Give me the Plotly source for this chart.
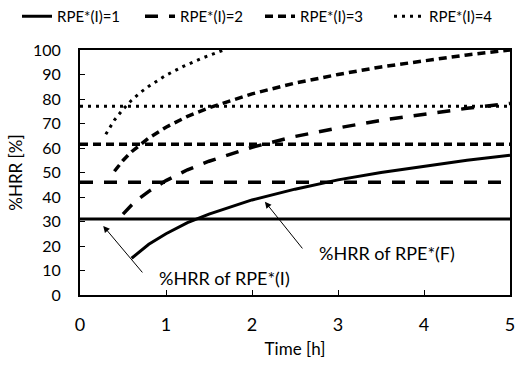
import plotly.graph_objects as go

# Horizontal lines: %HRR of RPE*(I)
rpe_labels = ["RPE*(I)=1", "RPE*(I)=2", "RPE*(I)=3", "RPE*(I)=4"]
hrr_initial = [31, 46, 61.5, 77]

# Curves: %HRR of RPE*(F)
x1 = [0.6, 0.7, 0.8, 1.0, 1.25, 1.5, 2.0, 2.5, 3.0, 3.5, 4.0, 4.5, 5.0]
y1 = [15, 18, 20.7, 25, 29.5, 33, 38.8, 43.2, 47, 50, 52.5, 55, 57]

x2 = [0.5, 0.6, 0.7, 0.8, 1.0, 1.25, 1.5, 2.0, 2.5, 3.0, 3.5, 4.0, 4.5, 5.0]
y2 = [33, 36.7, 39.7, 42.3, 46.7, 51.1, 54.6, 60.3, 64.7, 68.2, 71.3, 73.9, 76.2, 78.2]

x3 = [0.4, 0.5, 0.6, 0.7, 0.8, 1.0, 1.25, 1.5, 2.0, 2.5, 3.0, 3.5, 4.0, 4.5, 5.0]
y3 = [50.5, 54.9, 58.5, 61.5, 64.1, 68.5, 72.9, 76.4, 82.1, 86.5, 90, 93.1, 95.7, 98, 100]

x4 = [0.3, 0.4, 0.5, 0.6, 0.7, 0.8, 1.0, 1.2, 1.4, 1.67]
y4 = [65.6, 71.4, 75.8, 79.5, 82.6, 85.2, 89.7, 93.3, 96.4, 100]

x_range = [0, 5]
x_ticks = [0, 1, 2, 3, 4, 5]
y_ticks = [0, 10, 20, 30, 40, 50, 60, 70, 80, 90, 100]

curves_x = [x1, x2, x3, x4]
curves_y = [y1, y2, y3, y4]
styles = [
    dict(dash="solid", width=3),
    dict(dash="13px,11px", width=3.5),
    dict(dash="8px,5px", width=3.5),
    dict(dash="3px,5px", width=3),
]

FONT = "Lato, 'Open Sans', sans-serif"
legend_names = ["legend", "legend2", "legend3", "legend4"]
legend_x = [17, 140, 260, 389]

fig = go.Figure()
for i in range(4):
    fig.add_trace(go.Scatter(
        x=x_range, y=[hrr_initial[i]] * 2, mode="lines",
        line=dict(color="black", **styles[i]),
        name=rpe_labels[i], legendgroup=rpe_labels[i], showlegend=True,
        legend=legend_names[i], hoverinfo="skip"))
    fig.add_trace(go.Scatter(
        x=curves_x[i], y=curves_y[i], mode="lines",
        line=dict(color="black", **styles[i]),
        name=rpe_labels[i], legendgroup=rpe_labels[i], showlegend=False,
        legend=legend_names[i]))

fig.add_annotation(x=0.27, y=28.2, ax=0.74, ay=8.6, xref="x", yref="y",
                   axref="x", ayref="y", showarrow=True, arrowhead=2,
                   arrowsize=1.3, arrowwidth=1, arrowcolor="black", text="")
fig.add_annotation(x=2.15, y=38.1, ax=2.6, ay=18.4, xref="x", yref="y",
                   axref="x", ayref="y", showarrow=True, arrowhead=2,
                   arrowsize=1.3, arrowwidth=1, arrowcolor="black", text="")
fig.add_annotation(x=1.68, y=7.0, text="%HRR of RPE*(I)", showarrow=False,
                   font=dict(size=18, color="black", family=FONT))
fig.add_annotation(x=3.57, y=17.0, text="%HRR of RPE*(F)", showarrow=False,
                   font=dict(size=18, color="black", family=FONT))

legend_common = dict(orientation="h", xanchor="left", xref="container",
                     y=1.0, yref="container", yanchor="top",
                     font=dict(size=15, family=FONT), itemwidth=30,
                     bgcolor="rgba(0,0,0,0)")

fig.update_layout(
    width=518, height=367,
    margin=dict(l=80, r=8, t=50, b=72, autoexpand=False),
    paper_bgcolor="white", plot_bgcolor="white",
    font=dict(family=FONT, color="black", size=15),
    showlegend=True,
    xaxis=dict(range=x_range, tickvals=x_ticks, showgrid=False, zeroline=False,
               showline=True, linecolor="black", linewidth=2, mirror=True,
               ticks="inside", ticklen=5, tickcolor="black",
               tickfont=dict(size=18), ticklabelstandoff=12,
               title=dict(text="Time [h]", font=dict(size=17), standoff=10)),
    yaxis=dict(range=[0, 100], tickvals=y_ticks, showgrid=False, zeroline=False,
               showline=True, linecolor="black", linewidth=2, mirror=True,
               ticks="inside", ticklen=5, tickcolor="black",
               tickfont=dict(size=16), ticklabelstandoff=14,
               title=dict(text="%HRR [%]", font=dict(size=17), standoff=6)),
)
for name, lx in zip(legend_names, legend_x):
    fig.update_layout({name: dict(x=lx / 518, **legend_common)})

fig.write_html("out.html")
